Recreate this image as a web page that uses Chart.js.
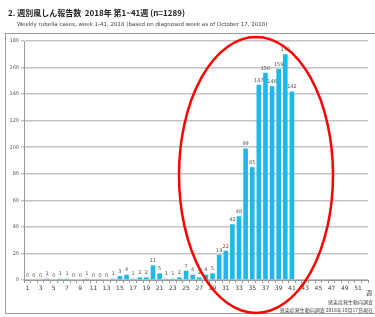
<!DOCTYPE html>
<html>
<head>
<meta charset="utf-8">
<script src="https://cdn.jsdelivr.net/npm/chart.js@4"></script>
<style>
  html, body { margin: 0; padding: 0; background: #fff; }
  #wrap { width: 375px; height: 317px; position: relative; }
</style>
</head>
<body>
<div id="wrap"><canvas id="myChart" width="375" height="317"></canvas></div>
<script>
// weeks 1..52
var weeks = [];
for (var w = 1; w <= 52; w++) weeks.push(String(w));
// reported cases, weeks 1-41
var cases = [0, 0, 0, 1, 0, 1, 1, 0, 0, 1,
             0, 0, 0, 1, 3, 4, 1, 2, 2, 11,
             5, 1, 1, 2, 7, 4, 2, 4, 5, 19,
             22, 42, 48, 99, 85, 147, 156, 146, 159, 170,
             142];
var yTicks = [0, 20, 40, 60, 80, 100, 120, 140, 160, 180];

var titleJa = "2. 週別風しん報告数  2018年 第1~41週 (n=1289)";
var titleEn = "Weekly rubella cases, week 1-41, 2018 (based on diagnosed week as of October 17, 2018)";
var source1 = "感染症発生動向調査";
var source2 = "感染症発生動向調査 2018年10月17日現在";

var extras = {
    id: "extras",
    afterDatasetsDraw: function (chart) {
        var ctx = chart.ctx;
        var meta = chart.getDatasetMeta(0);
        ctx.save();
        ctx.fillStyle = "#555";
        ctx.font = "5px 'DejaVu Sans'";
        ctx.textAlign = "center";
        ctx.textBaseline = "bottom";
        meta.data.forEach(function (bar, i) {
            ctx.fillText(cases[i], bar.x, bar.y - 2);
        });
        ctx.restore();
    },
    afterDraw: function (chart) {
        var ctx = chart.ctx;
        ctx.save();
        // frame
        ctx.strokeStyle = "#9a9a9a";
        ctx.lineWidth = 1;
        ctx.strokeRect(5.5, 33.5, 372, 280);
        // titles
        ctx.fillStyle = "#222";
        ctx.font = "bold 8px 'Noto Sans CJK JP'";
        ctx.textBaseline = "middle";
        ctx.fillText(titleJa, 8, 13);
        ctx.fillStyle = "#444";
        ctx.font = "5.5px 'DejaVu Sans'";
        ctx.fillText(titleEn, 17, 25);
        // unit at the end of x axis
        ctx.font = "6px 'Noto Sans CJK JP'";
        ctx.fillText("週", 366, 293);
        // source
        ctx.textAlign = "right";
        ctx.font = "5px 'Noto Sans CJK JP'";
        ctx.fillText(source1, 373, 302);
        ctx.fillText(source2, 373, 310);
        // red ellipse
        ctx.strokeStyle = "#ff0000";
        ctx.lineWidth = 2.5;
        ctx.beginPath();
        ctx.ellipse(256, 175, 77, 138, 0, 0, Math.PI * 2);
        ctx.stroke();
        ctx.restore();
    }
};

new Chart("myChart", {
    type: "bar",
    data: {
        labels: weeks,
        datasets: [{
            data: cases,
            backgroundColor: "#1cb9ea",
            barPercentage: 0.7,
            categoryPercentage: 1.0
        }]
    },
    options: {
        responsive: false,
        animation: false,
        layout: { padding: { left: 6, right: 7, top: 41, bottom: 21 } },
        plugins: {
            legend: { display: false },
            tooltip: { enabled: false }
        },
        scales: {
            x: {
                grid: { display: true, drawOnChartArea: false, color: "#999", tickLength: 3 },
                border: { color: "#999" },
                ticks: {
                    autoSkip: false,
                    maxRotation: 0,
                    color: "#444",
                    font: { size: 6, family: "DejaVu Sans" },
                    padding: 2,
                    callback: function (v, i) { return i % 2 === 0 ? weeks[i] : ""; }
                },
                afterFit: function (s) { s.height = 16; }
            },
            y: {
                min: 0,
                max: 180,
                afterBuildTicks: function (s) { s.ticks = yTicks.map(function (v) { return { value: v }; }); },
                grid: { color: "#c4c4c4", lineWidth: 1.5, tickLength: 3 },
                border: { color: "#999" },
                ticks: {
                    color: "#555",
                    font: { size: 5, family: "DejaVu Sans" },
                    padding: 2
                },
                afterFit: function (s) { s.width = 18; }
            }
        }
    },
    plugins: [extras]
});
</script>
</body>
</html>
